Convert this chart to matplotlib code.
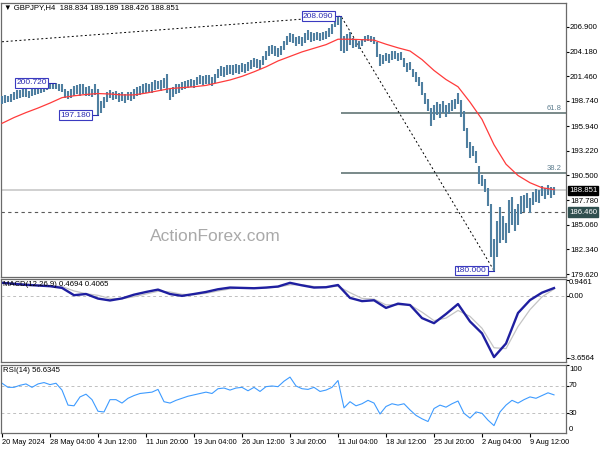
import numpy as np
import matplotlib
matplotlib.use('Agg')
import matplotlib.pyplot as plt

#==============================================================================
#DATA (one entry per 2 bars of H4)
#==============================================================================

bar_low = [198.45, 198.55, 198.6, 198.65, 198.85, 199.0, 199.1, 199.15, 199.2, 199.05, 199.25,
           199.4, 199.55, 199.6, 199.75, 199.9, 200.05, 200.1,
           200.0, 199.85, 199.7, 199.05, 198.95, 199.1, 199.3, 199.45, 199.3, 199.5, 199.25,
           199.3, 199.15, 199.4, 197.18,
           197.45, 197.95, 198.6, 199.05, 198.85, 198.95, 198.65, 198.75, 198.55, 198.85,
           198.75, 198.95, 199.25, 199.35, 199.55, 199.65, 199.75, 199.65, 199.95, 200.05,
           199.85, 200.15, 199.65, 198.8, 199.15, 199.55, 199.65,
           199.95, 200.05, 200.15, 200.25, 200.15, 200.45, 200.55, 200.45, 200.65, 200.55,
           200.35, 200.75, 201.25, 201.45, 201.35, 201.65, 201.75, 201.65, 201.85, 201.75,
           201.95, 201.85, 202.05, 202.25, 202.45, 202.35, 202.25,
           202.75, 203.25, 203.65, 203.95, 203.75, 203.55, 203.85, 204.35, 204.95, 205.25,
           205.15, 204.85, 205.05, 204.75, 205.15, 205.45, 205.25, 205.35, 205.45, 205.35,
           205.45, 205.55, 205.75, 206.15, 206.85, 207.15, 204.2,
           204.0, 204.3, 204.9, 204.6, 204.7, 204.5, 204.8, 205.2, 205.3, 205.2, 205.0, 203.6,
           202.6, 202.8, 203.1, 202.9, 203.3, 203.4, 203.1, 203.2, 202.5, 201.9, 202.1, 201.4,
           200.8, 200.4, 199.4, 198.4, 197.6, 196.0, 196.6, 197.2, 196.8, 197.4, 197.0, 197.3,
           197.6, 197.8, 198.4, 197.0, 195.4, 193.5,
           192.4, 192.6, 191.9, 189.6, 189.3, 188.7, 187.1, 181.5, 180.0, 181.5, 183.0, 183.4,
           183.0, 184.2, 185.0, 184.4, 185.0, 186.3, 186.5, 186.9, 186.4, 187.2, 187.6, 187.5,
           188.2, 187.9, 188.3, 188.0, 188.4]
bar_high = [199.25, 199.35, 199.3, 199.5, 199.75, 199.95, 199.9, 200.05, 200.0, 199.85, 200.15,
            200.3, 200.35, 200.45, 200.55, 200.65, 200.72, 200.72,
            200.7, 200.65, 200.55, 200.1, 199.85, 200.05, 200.35, 200.45, 200.55, 200.65,
            200.25, 200.35, 200.05, 200.6, 200.0,
            198.75, 199.15, 199.75, 199.95, 199.75, 199.85, 199.65, 199.75, 199.55, 199.75,
            199.75, 200.05, 200.25, 200.35, 200.55, 200.75, 200.65, 200.85, 201.05, 200.95,
            201.05, 201.25, 201.7, 200.05, 200.25, 200.55, 200.65,
            200.85, 200.95, 201.05, 201.15, 201.05, 201.35, 201.55, 201.45, 201.65, 201.55,
            201.35, 201.75, 202.25, 202.55, 202.45, 202.65, 202.75, 202.65, 202.85, 202.75,
            202.95, 202.85, 203.05, 203.25, 203.45, 203.35, 203.25,
            203.75, 204.25, 204.75, 204.95, 204.75, 204.55, 204.85, 205.35, 205.95, 206.25,
            206.15, 205.85, 205.95, 205.75, 206.25, 206.55, 206.35, 206.25, 206.35, 206.25,
            206.35, 206.45, 206.75, 207.25, 207.9, 208.05, 208.09,
            205.9, 206.1, 206.4, 205.7, 205.5, 205.3, 205.6, 205.9, 206.0, 205.9, 205.8, 205.2,
            203.9, 203.8, 204.0, 203.9, 204.2, 204.3, 204.0, 204.1, 203.5, 202.9, 203.0, 202.3,
            201.9, 201.4, 200.8, 199.6, 198.9, 198.0, 198.3, 198.6, 198.4, 198.7, 198.3, 198.5,
            198.8, 199.0, 199.6, 198.8, 197.6, 195.8,
            194.2, 193.8, 193.2, 191.6, 190.6, 190.1, 189.1, 187.3, 183.5, 185.5, 187.0, 186.0,
            185.3, 187.8, 188.1, 186.8, 187.3, 188.2, 188.3, 188.6, 188.0, 188.7, 189.0, 188.9,
            189.3, 189.1, 189.5, 189.2, 189.2]

# moving average, MACD main/signal: one value every 8 bars
ma = [196.26, 196.9, 197.45, 197.95, 198.5, 199.1, 199.3, 199.45, 199.55, 199.5, 199.4, 199.4,
      199.6, 199.85, 200.1, 200.2, 200.3, 200.45, 200.75, 201.05, 201.45, 201.95, 202.5, 203.15,
      203.65, 204.15, 204.55, 204.95, 205.55, 205.55, 205.5, 205.45, 205.0, 204.6, 204.25, 203.3,
      202.1, 201.1, 200.3, 198.6, 196.7, 193.9, 191.75, 190.5, 189.7, 189.15, 188.95]
macd_main = [0.78, 0.72, 0.66, 0.62, 0.58, 0.48, 0.05, 0.12, -0.15, -0.26, -0.14, 0.08,
             0.24, 0.38, 0.12, 0.01, 0.12, 0.24, 0.40, 0.50, 0.48, 0.46, 0.50, 0.56,
             0.78, 0.63, 0.50, 0.52, 0.65, -0.11, -0.30, -0.25, -0.70, -0.45, -0.53, -1.30,
             -1.60, -1.06, -0.47, -1.50, -2.20, -3.60, -2.80, -1.00, -0.24, 0.20, 0.47]
macd_signal = [0.80, 0.76, 0.71, 0.66, 0.62, 0.56, 0.30, 0.14, 0.04, -0.14, -0.16, -0.04,
               0.12, 0.28, 0.24, 0.10, 0.08, 0.16, 0.30, 0.42, 0.47, 0.47, 0.48, 0.53,
               0.66, 0.67, 0.56, 0.52, 0.58, 0.20, -0.14, -0.18, -0.52, -0.52, -0.52, -0.95,
               -1.45, -1.30, -0.85, -1.20, -1.90, -3.05, -3.10, -1.80, -0.80, -0.05, 0.41]

# RSI(14): one value every 4 bars
rsi = [74, 68, 68, 71, 73, 68, 73, 75, 72, 74, 64, 42, 41, 54, 58, 50, 33, 32, 50, 50,
       45, 52, 56, 59, 60, 61, 65, 47, 45, 49, 52, 55, 57, 59, 61, 59, 66, 67, 64, 67,
       68, 63, 68, 62, 69, 70, 69, 77, 83, 70, 66, 65, 68, 62, 64, 68, 78, 38, 47, 41,
       44, 49, 45, 29, 40, 44, 42, 44, 35, 27, 22, 18, 37, 42, 39, 44, 48, 30, 23, 32,
       30, 20, 12, 32, 42, 49, 45, 50, 54, 52, 56, 60, 57]

date_labels = ['20 May 2024', '28 May 04:00', '4 Jun 12:00', '11 Jun 20:00', '19 Jun 04:00',
               '26 Jun 12:00', '3 Jul 20:00', '11 Jul 04:00', '18 Jul 12:00', '25 Jul 20:00',
               '2 Aug 04:00', '9 Aug 12:00']
price_ticks = [206.900, 204.180, 201.460, 198.740, 195.940, 193.220, 190.500, 187.780,
               185.060, 182.340, 179.620]

swing_idx = [35, 64, 226, 328]
swing_val = [200.720, 197.180, 208.090, 180.000]
trend_x = [0, 226, 328]
trend_y = [205.27, 208.09, 180.00]
fib_start = 226
fib_levels = [197.36, 190.73]
fib_names = ['61.8', '38.2']
last_price = 188.851
support = 186.460

#==============================================================================
#SETTINGS
#==============================================================================

W, H = 600, 450
plt.rcParams['font.family'] = ['Liberation Sans', 'DejaVu Sans']
bar_col = '#4f7fa0'
edge_col = '#6a6a6a'
lab_col = '#2b2bb0'
axis_font = 5.6
xmax = 376

def box(l, t, r, b):
    return [l/W, 1-b/H, (r-l)/W, (b-t)/H]

def rlabel(a, val, txt, dy=0):
    a.annotate(txt, xy=(1, val), xycoords=a.get_yaxis_transform(), xytext=(3, dy),
               textcoords='offset pixels', va='center', ha='left', fontsize=axis_font,
               annotation_clip=False)

#==============================================================================
#PLOT
#==============================================================================

fig = plt.figure(figsize=(6, 4.5), dpi=100)
ax = fig.add_axes(box(1, 3, 566, 277))
ax_m = fig.add_axes(box(1, 279, 566, 362))
ax_r = fig.add_axes(box(1, 365, 566, 433))

bar_x = np.arange(len(bar_low))*2
ma_x = np.arange(len(ma))*8
rsi_x = np.arange(len(rsi))*4

# main price panel
ax.axhline(last_price, color='#c8c8c8', lw=1.2, zorder=1)
ax.axhline(support, color='#5a5a5a', lw=0.8, ls=(0, (3, 3)), zorder=1)
ax.hlines(fib_levels, fib_start, xmax, colors='#6e8080', lw=1.3, zorder=1)
for lev, name in zip(fib_levels, fib_names):
    ax.text(373, lev+0.15, name, ha='right', va='bottom', fontsize=5.5, color='#5f7f90')
ax.plot(trend_x, trend_y, color='black', lw=0.7, ls=(0, (2, 2.5)), zorder=2)
ax.vlines(bar_x, bar_low, bar_high, color=bar_col, lw=1.5, zorder=3)
ax.plot(ma_x, ma, color='#ff3b3b', lw=0.9, zorder=4)
for idx, val in zip(swing_idx, swing_val):
    ax.plot([idx-5, idx], [val, val], color=lab_col, lw=0.8, zorder=5)
    ax.text(idx-5, val, f'{val:.3f}', ha='right', va='center', fontsize=6, color=lab_col,
            zorder=6, bbox=dict(boxstyle='square,pad=0.15', fc='white', ec='#3a3ac0', lw=0.8))
ax.set_ylim(179.29, 209.55)
ax.set_yticks(price_ticks)
ax.set_yticklabels([f'{p:.3f}' for p in price_ticks])
for val, bg in [(last_price, 'black'), (support, '#2f4f4f')]:
    ax.annotate(f'{val:.3f}', xy=(1, val), xycoords=ax.get_yaxis_transform(),
                xytext=(3, 0), textcoords='offset pixels', va='center', ha='left',
                fontsize=axis_font, color='white', annotation_clip=False,
                bbox=dict(boxstyle='square,pad=0.15', fc=bg, ec=bg))

# MACD panel
ax_m.axhline(0, color='#c0c0c0', lw=0.7, ls=(0, (3, 3)))
ax_m.plot(ma_x, macd_signal, color='#c4c4c4', lw=0.9)
ax_m.plot(ma_x, macd_main, color='#1f1fa0', lw=1.7)
ax_m.set_ylim(-3.89, 1.005)
ax_m.set_yticks([0.9461, 0, -3.6564])
ax_m.set_yticklabels([])
rlabel(ax_m, 0.9461, '0.9461', dy=-3)
rlabel(ax_m, 0, '0.00')
rlabel(ax_m, -3.6564, '-3.6564')

# RSI panel
ax_r.axhline(70, color='#c0c0c0', lw=0.7, ls=(0, (3, 3)))
ax_r.axhline(30, color='#c0c0c0', lw=0.7, ls=(0, (3, 3)))
ax_r.plot(rsi_x, rsi, color='#3d9bff', lw=0.8)
ax_r.set_ylim(1.2, 100.7)
ax_r.set_yticks([100, 70, 30])
ax_r.set_yticklabels([])
rlabel(ax_r, 100, '100', dy=-4)
rlabel(ax_r, 70, '70')
rlabel(ax_r, 30, '30')
rlabel(ax_r, 0, '0', dy=4)
ax_r.set_xticks(np.arange(len(date_labels))*32)
ax_r.set_xticklabels(date_labels, ha='left', fontsize=5.3)

for a in [ax, ax_m, ax_r]:
    a.set_xlim(-0.67, xmax)
    a.yaxis.tick_right()
    a.tick_params(axis='y', length=2, pad=0.8, labelsize=axis_font, width=0.8)
    for s in a.spines.values():
        s.set_color(edge_col)
        s.set_linewidth(0.9)
for a in [ax, ax_m]:
    a.tick_params(axis='x', bottom=False, labelbottom=False)
ax_r.tick_params(axis='x', length=3, pad=1.5, width=0.8)

# texts
fig.text(4/W, 1-8/H, '\u25bc GBPJPY,H4  188.834 189.189 188.426 188.851', fontsize=5.6,
         va='center', ha='left')
fig.text(3/W, 1-284/H, 'MACD(12,26,9) 0.4694 0.4065', fontsize=5.6, va='center', ha='left')
fig.text(3/W, 1-371/H, 'RSI(14) 56.6345', fontsize=5.6, va='center', ha='left')
fig.text(215/W, 1-237/H, 'ActionForex.com', fontsize=12.5, color='#a9a9a9',
         ha='center', va='center')

fig.savefig('out.png', dpi=100)
